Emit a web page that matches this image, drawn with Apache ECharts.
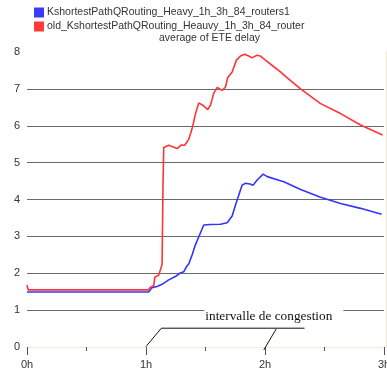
<!DOCTYPE html>
<html><head><meta charset="utf-8">
<script src="https://cdn.jsdelivr.net/npm/echarts@6/dist/echarts.min.js"></script>
<style>html,body{margin:0;padding:0;background:#fff}#c{width:387px;height:373px}</style>
</head><body><div id="c"></div>
<script>
// Data (x in hours, y = average ETE delay)
const seriesNames = ['KshortestPathQRouting_Heavy_1h_3h_84_routers1', 'old_KshortestPathQRouting_Heauvy_1h_3h_84_router'];
const xTicks = [0, 1, 2, 3];
const yTicks = [0, 1, 2, 3, 4, 5, 6, 7, 8];
const blueX = [0, 1.023, 1.051, 1.093, 1.135, 1.191, 1.247, 1.283, 1.317, 1.340, 1.359, 1.388, 1.415, 1.458, 1.485, 1.542, 1.626, 1.682, 1.724, 1.752, 1.780, 1.808, 1.836, 1.872, 1.901, 1.934, 1.985, 2.019, 2.130, 2.158, 2.299, 2.467, 2.635, 2.803, 2.980];
const blueY = [1.49, 1.49, 1.61, 1.64, 1.70, 1.82, 1.91, 2.00, 2.04, 2.18, 2.25, 2.50, 2.77, 3.10, 3.31, 3.32, 3.33, 3.37, 3.55, 3.85, 4.12, 4.39, 4.44, 4.42, 4.39, 4.53, 4.69, 4.62, 4.51, 4.48, 4.27, 4.06, 3.89, 3.76, 3.60];
const redX = [0, 0.01, 1.020, 1.037, 1.065, 1.073, 1.107, 1.121, 1.130, 1.135, 1.143, 1.149, 1.191, 1.262, 1.298, 1.325, 1.359, 1.388, 1.415, 1.443, 1.480, 1.519, 1.542, 1.569, 1.598, 1.640, 1.668, 1.687, 1.724, 1.760, 1.794, 1.828, 1.864, 1.892, 1.929, 1.962, 2.004, 2.074, 2.130, 2.187, 2.299, 2.467, 2.635, 2.803, 2.988];
const redY = [1.68, 1.55, 1.55, 1.62, 1.66, 1.89, 1.95, 2.00, 2.18, 2.25, 4.40, 5.41, 5.47, 5.38, 5.48, 5.47, 5.63, 5.93, 6.31, 6.62, 6.55, 6.44, 6.56, 6.88, 7.04, 6.96, 7.05, 7.31, 7.46, 7.78, 7.89, 7.94, 7.89, 7.84, 7.91, 7.89, 7.78, 7.60, 7.46, 7.30, 7.00, 6.60, 6.33, 6.02, 5.75];
// annotation bracket, in data coordinates
const bracketMain = [[0.999, 0.01], [1.129, 0.51], [2.332, 0.51]];
const bracketRight = [[2.094, 0.49], [1.990, -0.08]];
const annotationText = 'intervalle de congestion';
const annotationPos = [1.49, 0.84];

const zip = (xs, ys) => xs.map((x, i) => [x, ys[i]]);
const chart = echarts.init(document.getElementById('c'), null, {renderer: 'canvas'});
const font = 'Liberation Sans, Arial, sans-serif';
const gridColors = yTicks.map(v => (v === 0 || v === 8) ? 'rgba(0,0,0,0)' : '#6a6a6a');
chart.setOption({
  animation: false,
  textStyle: {fontFamily: font},
  title: {text: 'average of ETE delay', left: 154, top: 28, textStyle: {fontSize: 10.5, fontWeight: 'normal', color: '#333', fontFamily: font}},
  legend: {
    orient: 'vertical', left: 29, top: 2, itemGap: 3, itemWidth: 10, itemHeight: 10, icon: 'rect',
    textStyle: {fontSize: 10.5, color: '#333', fontFamily: font, padding: [0, 0, 0, -2]},
    data: seriesNames
  },
  grid: {left: 27, right: 3, top: 52, bottom: 26, containLabel: false, outerBoundsMode: 'none'},
  xAxis: {
    type: 'value', min: 0, max: 3, interval: 1,
    axisLine: {show: true, lineStyle: {color: '#efebd6', width: 1}},
    axisTick: {show: true, length: 8, lineStyle: {color: '#555'}},
    minorTick: {show: true, splitNumber: 2, length: 4, lineStyle: {color: '#555'}},
    splitLine: {show: false},
    axisLabel: {formatter: v => v + 'h', color: '#333', fontSize: 11, margin: 12, fontFamily: font, alignMinLabel: 'center', alignMaxLabel: 'center'}
  },
  yAxis: [{
    type: 'value', min: 0, max: 8, interval: 1,
    axisLine: {show: false}, axisTick: {show: false},
    axisLabel: {color: '#333', fontSize: 11, margin: 7, padding: [0, 0, 8, 0], fontFamily: font},
    splitLine: {show: true, lineStyle: {color: gridColors, width: 1}}
  }, {
    type: 'value', position: 'right', min: 0, max: 8, offset: 2,
    axisLine: {show: true, lineStyle: {color: '#efebd6'}}, axisTick: {show: false},
    axisLabel: {show: false}, splitLine: {show: false}
  }],
  series: [
    {name: seriesNames[0], type: 'line', data: zip(blueX, blueY), showSymbol: false, color: '#3a3aff', lineStyle: {width: 1.6, color: '#3434ff'}, z: 3},
    {name: seriesNames[1], type: 'line', data: zip(redX, redY), showSymbol: false, color: '#ff3a3a', lineStyle: {width: 1.6, color: '#ff3434'}, z: 3},
    {type: 'line', data: bracketMain, showSymbol: false, clip: false, silent: true, lineStyle: {width: 1, color: '#111'}, z: 5},
    {type: 'line', data: bracketRight, showSymbol: false, clip: false, silent: true, lineStyle: {width: 1, color: '#111'}, z: 5}
  ]
});
const p = chart.convertToPixel({xAxisIndex: 0, yAxisIndex: 0}, annotationPos);
chart.setOption({graphic: [{
  type: 'text', x: p[0], y: p[1], z: 10,
  style: {text: annotationText, font: '13.3px "Liberation Serif", "Times New Roman", serif', fill: '#111', verticalAlign: 'middle', align: 'left',
    backgroundColor: '#fff', padding: [2, 11, 2, 1]}
}]});
</script></body></html>
